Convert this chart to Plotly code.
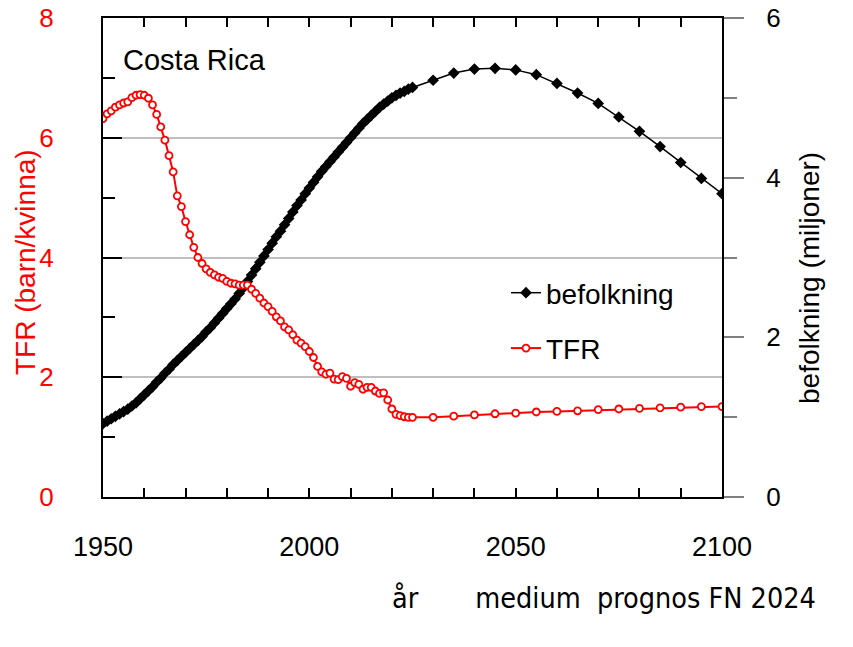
import plotly.graph_objects as go

# ---- data ----
years_hist = list(range(1950, 2026))
years_proj = list(range(2030, 2101, 5))
years = years_hist + years_proj

tfr = [6.32, 6.40, 6.45, 6.51, 6.55, 6.58, 6.60, 6.67, 6.71, 6.72,
       6.71, 6.66, 6.55, 6.39, 6.18, 5.96, 5.70, 5.43, 5.03, 4.85,
       4.60, 4.38, 4.17, 4.00, 3.90, 3.81, 3.75, 3.71, 3.67, 3.65,
       3.60, 3.57, 3.56, 3.54, 3.54, 3.54, 3.47, 3.40, 3.32, 3.24,
       3.18, 3.10, 3.01, 2.94, 2.84, 2.79, 2.71, 2.62, 2.57, 2.51,
       2.43, 2.33, 2.18, 2.09, 2.05, 2.07, 1.97, 1.96, 2.01, 1.98,
       1.85, 1.91, 1.88, 1.80, 1.83, 1.83, 1.77, 1.73, 1.74, 1.62,
       1.47, 1.38, 1.36, 1.34, 1.33, 1.33,
       1.33, 1.35, 1.37, 1.39, 1.40, 1.42, 1.43, 1.44, 1.46, 1.47,
       1.48, 1.49, 1.50, 1.51, 1.51]

pop = [0.92, 0.95, 0.98, 1.01, 1.04, 1.07, 1.10, 1.14, 1.18, 1.23,
       1.28, 1.33, 1.38, 1.44, 1.49, 1.55, 1.60, 1.66, 1.71, 1.76,
       1.81, 1.86, 1.91, 1.96, 2.01, 2.07, 2.12, 2.18, 2.24, 2.30,
       2.36, 2.42, 2.48, 2.55, 2.62, 2.70, 2.78, 2.86, 2.94, 3.02,
       3.10, 3.18, 3.26, 3.33, 3.41, 3.49, 3.57, 3.65, 3.72, 3.80,
       3.87, 3.94, 4.01, 4.08, 4.14, 4.20, 4.26, 4.32, 4.38, 4.44,
       4.50, 4.56, 4.62, 4.68, 4.73, 4.78, 4.83, 4.88, 4.92, 4.96,
       5.00, 5.03, 5.06, 5.08, 5.11, 5.13,
       5.22, 5.31, 5.36, 5.37, 5.35, 5.29, 5.18, 5.06, 4.93, 4.76,
       4.58, 4.39, 4.19, 3.99, 3.80]

x_ticks = list(range(1950, 2101, 10))
x_ticktext = [str(v) if v % 50 == 0 else "" for v in x_ticks]

FONT = "Liberation Sans, Arial, sans-serif"
NARROW = "DejaVu Sans Condensed, Liberation Sans Narrow, sans-serif"
RED = "#FF0000"

# plot area targeted at x 103-722, y 18-497 (page body margin removed below)
L, T, PW, PH = 103, 18, 619, 479

fig = go.Figure()

fig.add_trace(go.Scatter(
    x=years, y=pop, name="befolkning", mode="lines+markers",
    line=dict(color="black", width=1.5),
    marker=dict(symbol="diamond", size=9, color="black"),
    yaxis="y", legendgroup="a"))

fig.add_trace(go.Scatter(
    x=years, y=tfr, name="TFR", mode="lines+markers",
    line=dict(color=RED, width=2),
    marker=dict(symbol="circle", size=7, color="white",
                line=dict(color=RED, width=1.8)),
    yaxis="y2", legendgroup="b"))


def px(xp):
    return (xp - L) / PW


def py(yp):
    return (T + PH - yp) / PH


fig.update_layout(
    width=853, height=647,
    margin=dict(l=L, r=853 - L - PW, t=T, b=647 - T - PH, autoexpand=False),
    paper_bgcolor="white", plot_bgcolor="white",
    font=dict(family=FONT, size=26, color="black"),
    showlegend=True,
    legend=dict(x=px(506), y=py(268),
                xanchor="left", yanchor="top",
                font=dict(size=28, family=FONT),
                bgcolor="rgba(0,0,0,0)", tracegroupgap=16,
                traceorder="grouped"),
    xaxis=dict(range=[1950, 2100], tickvals=x_ticks, ticktext=x_ticktext,
               ticks="inside", ticklen=9, tickwidth=1.5, tickcolor="black",
               showline=True, linecolor="black", linewidth=2,
               mirror="ticks", showgrid=False, zeroline=False,
               automargin=False, ticklabelstandoff=25,
               ticklabeloverflow="allow",
               tickfont=dict(size=27, color="black")),
    yaxis=dict(range=[0, 6], side="right", dtick=2, tick0=0,
               ticks="outside", ticklen=20, tickwidth=2, tickcolor="#808080",
               minor=dict(dtick=1, ticks="outside", ticklen=13,
                          tickwidth=2, tickcolor="#808080", showgrid=False),
               showline=True, linecolor="black", linewidth=2,
               showgrid=False, zeroline=False, automargin=False,
               ticklabelstandoff=17, ticklabeloverflow="allow",
               tickfont=dict(size=26, color="black")),
    yaxis2=dict(range=[0, 8], side="left", overlaying="y", dtick=2, tick0=0,
                ticks="inside", ticklen=19, tickwidth=2, tickcolor="black",
                minor=dict(dtick=1, ticks="inside", ticklen=12,
                           tickwidth=2, tickcolor="black", showgrid=False),
                showline=True, linecolor="black", linewidth=2,
                showgrid=True, gridcolor="#BFBFBF", gridwidth=2,
                zeroline=False, automargin=False, ticklabelstandoff=42,
                ticklabeloverflow="allow",
                tickfont=dict(size=26, color=RED)),
)

fig.add_annotation(text="Costa Rica", xref="paper", yref="paper",
                   x=px(121), y=py(60),
                   xanchor="left", yanchor="middle", showarrow=False,
                   font=dict(size=29, color="black", family=FONT))
fig.add_annotation(text="TFR (barn/kvinna)", xref="paper", yref="paper",
                   x=px(25), y=py(262), textangle=-90,
                   xanchor="center", yanchor="middle", showarrow=False,
                   font=dict(size=28, color=RED, family=FONT))
fig.add_annotation(text="befolkning (miljoner)", xref="paper", yref="paper",
                   x=px(809), y=py(278), textangle=-90,
                   xanchor="center", yanchor="middle", showarrow=False,
                   font=dict(size=28, color="black", family=FONT))
fig.add_annotation(text="år" + "\u00a0" * 7 + "medium\u00a0\u00a0prognos\u00a0FN\u00a02024",
                   xref="paper", yref="paper",
                   x=px(818), y=py(598),
                   xanchor="right", yanchor="middle", showarrow=False,
                   font=dict(size=28.5, color="black", family=NARROW))

fig.write_html("out.html",
               config={"displayModeBar": False},
               post_script="document.body.style.margin='0px';"
                           "document.body.style.overflow='hidden';")
